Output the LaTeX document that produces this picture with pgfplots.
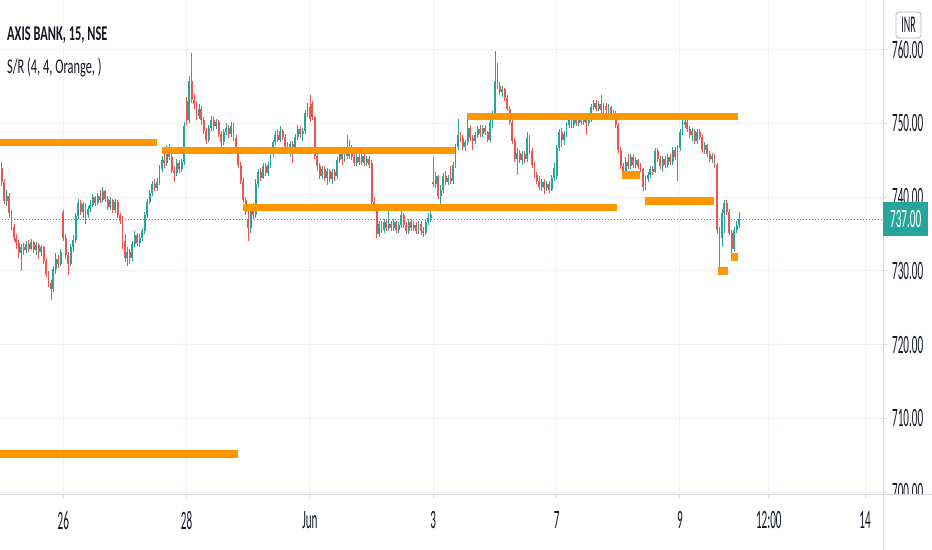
\documentclass[border=0pt]{standalone}
\usepackage{fontspec}
\setmainfont{Carlito}
\newfontfamily\tvfont[FakeStretch=0.42]{Carlito}
\newfontfamily\ttlfont[FakeStretch=0.59]{Carlito}
\usepackage{pgfplots}
\pgfplotsset{compat=1.18}
\usepackage{pgfplotstable}
\definecolor{tvup}{HTML}{26A69A}
\definecolor{tvdown}{HTML}{EF5350}
\definecolor{tvorange}{HTML}{FF9800}
\definecolor{tvgrid}{HTML}{EEF1F7}
\definecolor{tvaxis}{HTML}{D6D8DE}
\definecolor{tvtext}{HTML}{131722}
\definecolor{tvbox}{HTML}{B2B5BE}

\pgfplotstableread{
x o h l c
0 744.0 744.8 741.5 742.0
1 742.0 742.5 739.0 739.5
2 739.5 741.0 738.8 740.2
3 740.2 740.5 737.2 737.8
4 737.8 738.2 735.5 736.0
5 736.0 736.4 734.0 734.5
6 734.5 735.0 733.0 733.8
7 733.8 734.2 731.8 732.4
8 732.4 733.6 730.0 733.2
9 733.2 733.8 732.2 732.8
10 732.8 734.0 732.4 733.6
11 733.6 734.2 732.6 733.0
12 733.0 734.3 732.8 733.9
13 733.9 734.1 732.4 732.8
14 732.8 733.9 732.2 733.5
15 733.5 733.8 731.6 732.6
16 732.6 733.5 732.0 733.2
17 733.2 733.4 731.0 731.4
18 731.4 731.8 729.2 729.6
19 729.6 730.0 727.8 728.4
20 728.4 728.8 726.0 727.6
21 727.6 730.6 727.2 730.2
22 730.2 732.4 729.6 731.6
23 731.6 732.2 730.4 731.0
24 731.0 733.0 730.6 732.6
25 738.0 738.3 734.0 734.4
26 734.4 735.0 731.6 732.2
27 732.2 732.6 729.4 731.0
28 731.0 733.6 730.6 733.2
29 733.2 734.8 732.6 734.2
30 734.2 737.8 733.8 737.4
31 737.4 739.8 737.0 739.2
32 739.2 739.6 737.6 738.0
33 738.0 739.4 737.2 739.0
34 739.0 739.2 736.4 737.6
35 737.6 738.8 737.2 738.4
36 738.4 739.6 738.0 738.9
37 738.9 740.4 738.6 740.0
38 740.0 740.2 738.8 739.2
39 739.2 740.6 738.9 740.2
40 740.2 741.0 739.2 739.6
41 739.6 741.4 739.3 740.8
42 740.8 741.0 739.4 739.8
43 739.8 740.2 738.2 738.6
44 738.6 740.0 738.2 739.6
45 739.6 739.8 737.8 738.2
46 738.2 739.8 737.9 739.4
47 739.4 739.6 737.2 737.6
48 737.6 737.9 736.4 736.8
49 736.8 737.4 733.0 733.4
50 734.0 735.0 731.2 731.8
51 731.8 733.2 730.6 732.6
52 732.6 733.0 731.0 731.8
53 731.8 734.0 731.4 733.6
54 733.6 735.4 733.2 734.8
55 734.8 735.2 733.4 733.8
56 733.8 735.0 733.2 734.4
57 734.4 735.8 734.0 735.4
58 735.4 738.0 735.0 737.6
59 737.6 739.8 737.2 739.4
60 739.4 741.0 739.0 740.6
61 740.6 742.2 740.2 741.8
62 741.8 742.4 740.8 741.2
63 741.2 742.6 740.8 742.0
64 742.0 744.4 741.6 743.8
65 743.8 745.6 743.4 745.0
66 745.0 745.8 744.0 744.6
67 744.6 747.0 744.2 746.2
68 746.2 747.2 745.0 745.4
69 745.4 745.8 743.2 743.6
70 743.6 744.2 742.0 743.2
71 743.2 745.2 742.8 744.6
72 744.6 745.0 743.2 743.8
73 743.8 745.2 743.4 744.8
74 744.8 750.2 744.4 749.6
75 753.0 753.6 749.8 750.4
76 750.4 756.4 750.0 755.8
77 755.8 759.5 752.8 753.2
78 753.2 754.0 752.0 752.6
79 752.6 753.0 750.4 751.0
80 751.0 752.6 750.6 752.0
81 752.0 752.4 749.8 750.4
82 750.4 750.8 748.6 749.0
83 749.0 749.4 747.2 747.8
84 747.8 749.8 747.4 749.4
85 749.4 751.0 749.0 750.4
86 750.4 750.8 749.0 749.6
87 749.6 750.6 749.2 750.2
88 750.2 750.4 748.2 748.6
89 748.6 749.0 746.8 747.4
90 747.4 749.2 747.0 748.8
91 748.8 750.0 748.4 749.4
92 749.4 749.8 748.0 748.6
93 748.6 750.2 748.2 749.6
94 749.6 750.0 747.6 748.0
95 748.0 748.4 746.2 746.6
96 746.6 746.8 744.0 744.4
97 744.4 744.8 741.8 742.2
98 742.2 742.6 739.2 739.6
99 739.6 740.0 737.6 738.0
100 737.0 738.6 734.0 735.8
101 735.8 739.0 735.2 738.6
102 738.6 739.2 737.0 737.6
103 737.6 742.4 737.2 741.8
104 741.8 743.8 741.2 743.4
105 743.4 744.0 742.2 742.6
106 742.6 744.6 742.4 744.2
107 744.2 744.6 742.8 743.2
108 743.2 744.8 742.9 744.4
109 744.4 746.2 744.0 745.8
110 745.8 747.8 745.4 747.4
111 747.4 749.0 747.0 748.4
112 748.4 749.2 747.4 747.8
113 747.8 749.6 747.4 749.0
114 749.0 749.2 747.8 748.2
115 748.2 748.6 746.4 746.8
116 746.8 747.4 745.8 746.2
117 746.2 747.6 745.4 747.2
118 747.2 747.6 744.6 746.4
119 746.4 748.6 746.0 748.2
120 748.2 749.8 747.8 749.2
121 749.2 749.6 748.0 748.6
122 748.6 749.4 747.6 749.0
123 749.0 751.8 748.6 751.4
124 751.4 752.8 750.8 752.2
125 752.2 753.9 750.2 750.6
126 752.6 753.0 750.4 750.8
127 750.8 751.0 745.2 745.6
128 745.6 746.0 743.6 744.2
129 744.2 744.6 742.4 742.8
130 742.8 744.2 742.4 743.8
131 743.8 744.2 742.2 742.6
132 742.6 744.0 741.6 743.6
133 743.6 743.8 742.0 742.4
134 742.4 743.8 741.8 743.4
135 743.4 743.8 742.2 742.8
136 742.8 745.4 742.4 745.0
137 745.0 746.4 744.6 745.8
138 745.8 746.2 744.4 745.2
139 745.2 746.8 744.8 746.4
140 746.4 748.4 745.2 745.6
141 745.6 747.8 745.2 746.6
142 746.6 747.0 745.0 745.4
143 745.4 745.8 744.2 744.6
144 744.6 745.8 744.2 745.4
145 745.4 745.8 744.4 744.8
146 744.8 746.0 744.4 745.6
147 745.6 745.8 744.2 744.6
148 744.6 745.6 744.2 745.2
149 745.2 745.6 744.0 744.4
150 744.6 745.0 739.0 739.4
151 739.4 740.0 738.0 738.6
152 738.6 739.0 734.4 735.0
153 735.0 736.8 734.6 736.4
154 736.4 736.8 735.2 735.6
155 735.6 737.0 735.2 736.6
156 736.6 737.0 735.4 735.8
157 735.8 738.6 735.4 736.4
158 736.4 736.8 735.4 735.8
159 735.8 737.0 735.4 736.6
160 736.6 736.8 735.2 735.6
161 735.6 736.6 735.2 736.2
162 736.2 738.2 735.8 737.6
163 737.6 737.8 735.8 736.2
164 736.2 736.6 735.0 735.4
165 735.4 737.0 735.0 736.6
166 736.6 737.0 735.4 735.8
167 735.8 736.8 735.4 736.2
168 736.2 736.6 735.0 735.4
169 735.4 736.8 735.0 736.4
170 736.4 736.8 734.8 735.4
171 735.4 736.0 734.6 735.2
172 735.2 737.0 734.8 736.6
173 736.6 737.8 736.2 737.2
174 737.2 738.4 736.6 737.6
175 742.0 745.4 741.4 741.8
176 741.8 743.4 741.2 742.8
177 742.8 743.0 739.8 740.2
178 740.2 741.6 738.6 741.0
179 741.0 743.2 740.6 742.8
180 742.8 743.6 741.6 742.0
181 742.0 743.0 741.6 742.6
182 742.6 744.2 741.8 742.2
183 742.2 744.8 741.8 744.4
184 744.4 747.2 744.0 746.8
185 746.8 750.6 746.4 748.4
186 748.4 748.8 747.4 748.0
187 748.0 748.4 746.4 746.8
188 746.8 747.8 746.2 747.4
189 747.4 750.8 747.0 749.4
190 749.4 749.8 747.6 748.0
191 748.0 748.4 746.4 747.6
192 747.6 748.8 747.2 748.4
193 748.4 749.6 748.0 749.2
194 749.2 749.8 748.2 748.6
195 748.6 749.8 748.2 749.4
196 749.4 749.8 748.4 748.8
197 748.8 749.0 747.4 747.8
198 747.8 750.6 747.4 750.2
199 750.2 751.6 749.4 751.0
200 751.0 759.8 750.6 755.8
201 756.6 758.2 754.6 755.0
202 755.0 755.6 753.8 754.2
203 754.2 755.0 753.6 754.6
204 754.6 754.8 753.0 753.4
205 753.4 753.8 751.6 752.0
206 752.0 752.4 749.8 750.2
207 750.2 750.6 747.2 747.6
208 747.6 748.0 744.8 745.2
209 745.2 746.6 743.0 746.0
210 746.0 746.4 744.6 745.0
211 745.0 746.2 744.4 745.8
212 745.8 746.2 744.6 745.2
213 745.2 748.8 744.8 748.0
214 748.0 748.4 745.8 746.2
215 746.2 746.6 744.0 744.4
216 744.4 744.8 742.6 743.0
217 743.0 743.4 741.8 742.2
218 742.2 742.8 741.0 741.4
219 741.4 742.4 740.8 742.0
220 742.0 742.4 740.4 741.2
221 741.2 742.2 740.8 741.8
222 741.8 742.2 740.6 741.0
223 741.0 743.0 740.8 742.6
224 742.6 744.6 742.2 744.0
225 742.8 747.0 742.4 746.6
226 746.6 749.2 746.2 748.8
227 748.8 749.4 746.8 747.8
228 747.8 749.0 747.0 748.6
229 748.6 750.2 748.2 749.8
230 749.8 750.8 749.4 750.4
231 750.4 750.8 749.4 749.8
232 749.8 751.0 749.4 750.6
233 750.6 751.2 749.6 750.0
234 750.0 751.2 749.6 750.8
235 750.8 751.4 749.8 750.2
236 750.2 751.4 749.8 751.0
237 751.0 751.2 748.4 750.0
238 750.0 751.0 749.6 750.6
239 750.6 752.6 750.2 752.2
240 752.2 753.2 751.8 752.8
241 752.8 753.2 751.6 752.0
242 752.0 753.0 751.6 752.6
243 752.6 753.8 751.4 751.8
244 751.8 752.8 751.4 752.4
245 752.4 752.8 751.4 751.8
246 751.8 752.6 751.2 752.2
247 752.2 752.4 750.4 750.8
248 750.8 751.8 750.4 751.4
249 751.4 751.6 749.4 749.8
250 749.8 750.0 746.0 746.4
251 746.4 746.8 743.8 744.2
252 744.2 744.6 742.4 743.0
253 743.0 745.4 742.6 744.8
254 744.8 745.8 743.8 744.2
255 744.2 745.8 743.8 745.4
256 745.4 745.8 744.0 744.4
257 744.4 745.4 744.0 745.0
258 745.0 745.2 743.8 744.2
259 744.2 744.6 743.4 743.8
260 743.8 744.0 740.8 741.4
261 741.4 742.8 741.0 742.4
262 742.4 743.4 742.0 743.0
263 743.0 744.2 742.6 743.8
264 743.8 744.2 743.0 743.4
265 743.4 746.6 743.2 746.2
266 746.2 746.6 744.8 745.2
267 745.2 745.6 743.8 744.2
268 744.2 745.6 743.4 745.2
269 745.2 745.6 744.0 744.4
270 744.4 745.8 744.0 745.4
271 745.4 745.8 744.4 744.8
272 744.8 746.8 744.4 746.4
273 746.4 746.8 745.0 745.4
274 745.4 747.0 742.2 746.6
275 746.6 749.2 746.2 748.8
276 748.8 750.4 748.4 749.8
277 749.8 751.2 749.4 750.2
278 750.2 750.6 748.8 749.2
279 749.2 749.6 748.0 748.4
280 748.4 749.4 747.6 749.0
281 749.0 749.2 747.2 747.6
282 747.6 749.2 747.2 748.8
283 748.8 749.2 747.8 748.2
284 748.2 748.4 746.0 746.4
285 746.4 747.4 745.8 747.0
286 747.0 747.2 745.4 745.8
287 745.8 746.2 744.8 745.2
288 745.2 746.0 744.6 745.6
289 745.6 745.8 744.0 744.4
290 744.4 744.6 735.0 735.6
291 735.6 736.0 729.7 734.4
292 734.4 738.4 733.2 737.8
293 737.8 739.6 735.2 739.2
294 739.2 739.6 737.6 738.0
295 738.0 738.4 734.8 735.2
296 735.2 735.6 731.4 733.0
297 733.0 736.0 732.6 735.6
298 735.6 736.8 735.2 736.2
299 736.2 738.0 735.8 737.0
}\candles

\begin{document}
\begin{tikzpicture}
\fill[white] (0,0) rectangle (932bp,550bp);
\path[use as bounding box] (0,0) rectangle (932bp,550bp);
\begin{axis}[
  at={(0,55bp)}, anchor=south west, scale only axis,
  width=883bp, height=495bp,
  xmin=-0.66, xmax=357.3, ymin=699.63, ymax=766.71,
  axis x line*=bottom, axis y line*=right,
  axis line style={draw=tvaxis, line width=1bp},
  xtick={25,75,125,175,225,275,311,350},
  xticklabels={26,28,Jun,3,7,9,12:00,14},
  ytick={700,710,720,730,740,750,760},
  yticklabels={700.00,710.00,720.00,730.00,740.00,750.00,760.00},
  grid=major, grid style={draw=tvgrid, line width=1bp},
  tick align=outside, major tick length=4bp,
  tick style={draw=tvaxis, line width=1bp},
  ticklabel style={font=\tvfont\fontsize{26.5bp}{27bp}\selectfont, text=tvtext},
  xticklabel style={anchor=north, inner sep=0pt, yshift=-12bp},
  yticklabel style={anchor=west, inner sep=0pt, xshift=5bp},
  clip=true,
]
% wicks
\addplot[draw=none, no markers, forget plot,
  restrict expr to domain={\thisrow{c}-\thisrow{o}}{0:100},
  error bars/.cd, y dir=minus, y explicit, error mark=none,
  error bar style={line width=0.85bp, draw=tvup, solid}]
  table[x=x, y=h, y error minus expr=\thisrow{h}-\thisrow{l}] {\candles};
\addplot[draw=none, no markers, forget plot,
  restrict expr to domain={\thisrow{c}-\thisrow{o}}{-100:-0.0001},
  error bars/.cd, y dir=minus, y explicit, error mark=none,
  error bar style={line width=0.85bp, draw=tvdown, solid}]
  table[x=x, y=h, y error minus expr=\thisrow{h}-\thisrow{l}] {\candles};
% bodies
\addplot[draw=none, no markers, forget plot,
  restrict expr to domain={\thisrow{c}-\thisrow{o}}{0:100},
  error bars/.cd, y dir=minus, y explicit, error mark=none,
  error bar style={line width=1.9bp, draw=tvup, solid}]
  table[x=x, y=c, y error minus expr=\thisrow{c}-\thisrow{o}] {\candles};
\addplot[draw=none, no markers, forget plot,
  restrict expr to domain={\thisrow{c}-\thisrow{o}}{-100:-0.0001},
  error bars/.cd, y dir=minus, y explicit, error mark=none,
  error bar style={line width=1.9bp, draw=tvdown, solid}]
  table[x=x, y=o, y error minus expr=\thisrow{o}-\thisrow{c}] {\candles};
% last price line
\addplot[tvup, line width=1.1bp, dash pattern=on 1.3bp off 1.7bp] coordinates {(-1,737) (358,737)};
% S/R levels
\addplot[tvorange, line width=7.5bp] coordinates {(-1,747.4) (63.0,747.4)};
\addplot[tvorange, line width=7.5bp] coordinates {(65.0,746.3) (183.9,746.3)};
\addplot[tvorange, line width=7.5bp] coordinates {(97.9,738.6) (249.3,738.6)};
\addplot[tvorange, line width=7.5bp] coordinates {(188.8,750.95) (298.4,750.95)};
\addplot[tvorange, line width=7.5bp] coordinates {(251.4,743.0) (258.7,743.0)};
\addplot[tvorange, line width=7.5bp] coordinates {(260.7,739.45) (288.6,739.45)};
\addplot[tvorange, line width=7.5bp] coordinates {(290.6,730.0) (294.6,730.0)};
\addplot[tvorange, line width=7.5bp] coordinates {(295.8,731.9) (298.7,731.9)};
\addplot[tvorange, line width=7.5bp] coordinates {(-1,705.2) (95.7,705.2)};
\end{axis}
\fill[white] (883.5bp,38bp) rectangle (932bp,54.5bp);
\draw[tvaxis, line width=1bp] (0,55bp) -- (932bp,55bp);
\draw[tvaxis, line width=1bp] (883bp,0) -- (883bp,550bp);
\node[fill=tvup, text=white, minimum width=45bp, minimum height=34bp, inner sep=0pt, anchor=west,
  font=\tvfont\fontsize{26.5bp}{27bp}\selectfont] at (883bp,331bp) {737.00};
\node[draw=tvbox, fill=white, rounded corners=3bp, line width=0.8bp, minimum width=25bp,
  minimum height=26bp, inner sep=0pt, text=tvtext,
  font=\tvfont\fontsize{24bp}{24bp}\selectfont] at (908.5bp,525bp) {INR};
\node[anchor=base west, inner sep=0pt, text=tvtext] at (7bp,509.3bp)
  {\ttlfont\bfseries\fontsize{21bp}{21bp}\selectfont AXIS BANK, 15, NSE};
\node[anchor=base west, inner sep=0pt, text=tvtext] at (7bp,476bp)
  {\ttlfont\fontsize{21bp}{21bp}\selectfont S/R (4, 4, Orange, )};
\end{tikzpicture}
\end{document}
